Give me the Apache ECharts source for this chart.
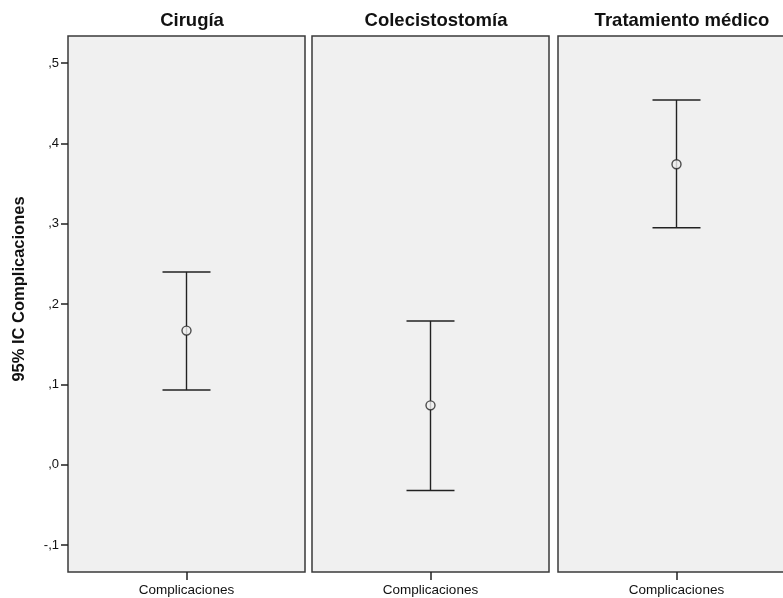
<!DOCTYPE html>
<html>
<head>
<meta charset="utf-8">
<script src="https://cdn.jsdelivr.net/npm/echarts@6/dist/echarts.min.js"></script>
<style>
  html, body { margin: 0; padding: 0; background: #fff; overflow: hidden; }
  /* third panel runs past the right edge in the original, so the canvas is a bit wider */
  #chart { width: 810px; height: 598px; }
</style>
</head>
<body>
<div id="chart"></div>
<script>
// panels and values
const groups = ['Cirugía', 'Colecistostomía', 'Tratamiento médico']
const category = ['Complicaciones']
const means = [0.167, 0.074, 0.374]
const lower = [0.093, -0.032, 0.295]
const upper = [0.240, 0.179, 0.454]
const tickValues = [-0.1, 0, 0.1, 0.2, 0.3, 0.4, 0.5]

const yMin = -0.1334
const yMax = 0.5336
const panelLeft = [68, 312, 558]
const panelWidth = 237
const ink = '#222'
const font = 'Liberation Sans'

function fmt(v) {
  // SPSS style: ",5" / "-,1"
  const s = v.toFixed(1).replace('.', ',')
  return s.replace(/^0,/, ',').replace(/^-0,/, '-,')
}

const chart = echarts.init(document.getElementById('chart'))

const grid = [], xAxis = [], yAxis = [], series = [], title = []

groups.forEach((g, i) => {
  grid.push({
    left: panelLeft[i], top: 36, width: panelWidth, height: 536,
    show: true, backgroundColor: '#f0f0f0',
    borderColor: '#3a3a3a', borderWidth: 1.5
  })
  title.push({
    text: g, left: panelLeft[i] + panelWidth / 2 + 0.5, top: 6, textAlign: 'center',
    textStyle: { fontFamily: font, fontWeight: 'bold', fontSize: 18.5, color: '#111' }
  })
  xAxis.push({
    gridIndex: i, type: 'category', data: category,
    axisLine: { show: false, onZero: false },
    axisTick: { show: true, alignWithLabel: true, length: 8, lineStyle: { color: ink, width: 1.5 } },
    axisLabel: { margin: 11, fontFamily: font, fontSize: 13.5, color: '#111' }
  })
  yAxis.push({
    gridIndex: i, type: 'value', min: yMin, max: yMax,
    show: i === 0,
    name: i === 0 ? '95% IC Complicaciones' : '',
    nameLocation: 'middle', nameGap: 40, nameRotate: 90,
    nameTextStyle: {
      fontFamily: font, fontWeight: 'bold', fontSize: 16.5, color: '#111',
      padding: [0, 0, 0, 30]
    },
    axisLine: { show: false },
    splitLine: { show: false },
    axisTick: { show: true, length: 7, customValues: tickValues, lineStyle: { color: ink, width: 1.5 } },
    axisLabel: {
      customValues: tickValues, margin: 9, formatter: fmt,
      fontFamily: font, fontSize: 13, color: '#111'
    }
  })
  series.push({
    type: 'custom', xAxisIndex: i, yAxisIndex: i,
    encode: { x: 0, y: [1, 2] },
    data: [[0, lower[i], upper[i]]],
    renderItem: (params, api) => {
      const lo = api.coord([api.value(0), api.value(1)])
      const hi = api.coord([api.value(0), api.value(2)])
      const half = 24
      const style = { stroke: ink, lineWidth: 1.4 }
      return {
        type: 'group',
        children: [
          { type: 'line', shape: { x1: lo[0], y1: lo[1], x2: hi[0], y2: hi[1] }, style },
          { type: 'line', shape: { x1: hi[0] - half, y1: hi[1], x2: hi[0] + half, y2: hi[1] }, style },
          { type: 'line', shape: { x1: lo[0] - half, y1: lo[1], x2: lo[0] + half, y2: lo[1] }, style }
        ]
      }
    },
    z: 2
  })
  series.push({
    type: 'scatter', xAxisIndex: i, yAxisIndex: i,
    data: [[0, means[i]]],
    symbol: 'circle', symbolSize: 9,
    itemStyle: { color: '#f0f0f0', borderColor: ink, borderWidth: 1.4 },
    z: 3
  })
})

chart.setOption({
  animation: false,
  title, grid, xAxis, yAxis, series
})
</script>
</body>
</html>
